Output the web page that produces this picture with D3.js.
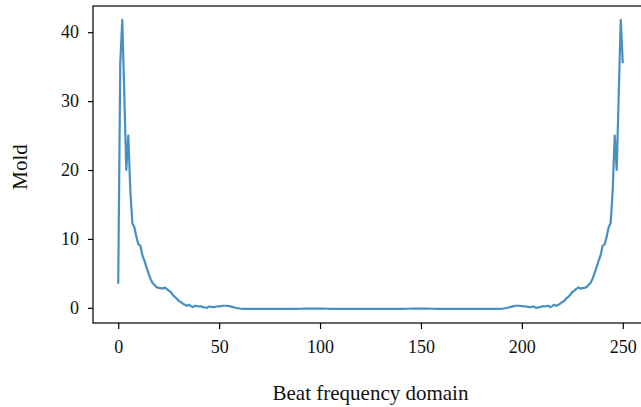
<!DOCTYPE html>
<html>
<head>
    <script src="https://d3js.org/d3.v7.min.js"></script>
    <style>
        body { margin: 0; background: #fff; }
        text { font-family: "Liberation Serif", "DejaVu Serif", serif; fill: #111; }
        .tick text { font-size: 18px; }
        .tick line { stroke: #000; stroke-width: 1.2; }
        .frame { fill: none; stroke: #000; stroke-width: 1.2; }
        .spectrum { fill: none; stroke: #1f77b4; stroke-opacity: 0.82; stroke-width: 2.2; stroke-linejoin: round; }
        .axis-title { font-size: 21px; }
    </style>
</head>
<body>
    <svg width="641" height="407"></svg>
    <script>
        // magnitude, bins 0..125
        const lowBand = [
            3.5, 35.5, 41.8, 31, 20, 25, 17, 12.3, 11.7, 10.3,
            9.2, 9.0, 7.6, 6.8, 5.9, 5.0, 4.2, 3.6, 3.3, 3.0,
            2.9, 2.85, 2.8, 2.95, 2.75, 2.5, 2.3, 1.9, 1.6, 1.35,
            1.0, 0.85, 0.6, 0.45, 0.3, 0.45, 0.25, 0.1, 0.3, 0.25,
            0.2, 0.25, 0.1, 0.05, 0.0, 0.2, 0.15, 0.1, 0.15, 0.2,
            0.2, 0.25, 0.3, 0.3, 0.3, 0.25, 0.18, 0.1, 0.02, -0.05,
            -0.1, -0.13, -0.15, -0.15, -0.15, -0.15, -0.15, -0.15, -0.15, -0.15,
            -0.15, -0.15, -0.15, -0.15, -0.15, -0.15, -0.15, -0.15, -0.15, -0.15,
            -0.15, -0.15, -0.15, -0.15, -0.15, -0.15, -0.15, -0.15, -0.14, -0.14,
            -0.13, -0.13, -0.12, -0.12, -0.12, -0.12, -0.12, -0.12, -0.12, -0.12,
            -0.12, -0.12, -0.12, -0.13, -0.13, -0.14, -0.14, -0.15, -0.15, -0.15,
            -0.15, -0.15, -0.15, -0.15, -0.15, -0.15, -0.15, -0.15, -0.15, -0.15,
            -0.15, -0.15, -0.15, -0.15, -0.15, -0.15
        ];
        // bins 126..250
        const highBand = [
            -0.15, -0.15, -0.15, -0.15, -0.15, -0.15, -0.15, -0.15, -0.15, -0.15,
            -0.15, -0.15, -0.15, -0.15, -0.15, -0.14, -0.14, -0.13, -0.13, -0.12,
            -0.12, -0.12, -0.12, -0.12, -0.12, -0.12, -0.12, -0.12, -0.12, -0.13,
            -0.13, -0.14, -0.14, -0.15, -0.15, -0.15, -0.15, -0.15, -0.15, -0.15,
            -0.15, -0.15, -0.15, -0.15, -0.15, -0.15, -0.15, -0.15, -0.15, -0.15,
            -0.15, -0.15, -0.15, -0.15, -0.15, -0.15, -0.15, -0.15, -0.15, -0.15,
            -0.15, -0.15, -0.15, -0.15, -0.13, -0.1, -0.05, 0.02, 0.1, 0.18,
            0.25, 0.3, 0.3, 0.3, 0.25, 0.2, 0.2, 0.15, 0.1, 0.15,
            0.2, 0.0, 0.05, 0.1, 0.25, 0.2, 0.25, 0.3, 0.1, 0.25,
            0.45, 0.3, 0.45, 0.6, 0.85, 1.0, 1.35, 1.6, 1.9, 2.3,
            2.5, 2.75, 2.95, 2.8, 2.85, 2.9, 3.0, 3.3, 3.6, 4.2,
            5.0, 5.9, 6.8, 7.6, 9.0, 9.2, 10.3, 11.7, 12.3, 17,
            25, 20, 31, 41.8, 35.5
        ];
        const xTicks = [0, 50, 100, 150, 200, 250];
        const yTicks = [0, 10, 20, 30, 40];

        const values = lowBand.concat(highBand);
        const data = values.map((v, i) => ({ bin: i, value: v }));

        const svg = d3.select('svg');
        const plotLeft = 93, plotTop = 6, plotBottom = 323, plotRight = 648;

        const x = d3.scaleLinear()
            .domain([-12.5, 262.5])
            .range([plotLeft, plotRight]);

        const y = d3.scaleLinear()
            .domain([-2.2, 43.8])
            .range([plotBottom, plotTop]);

        const line = d3.line()
            .x(d => x(d.bin))
            .y(d => y(d.value));

        svg.append('path')
            .datum(data)
            .attr('class', 'spectrum')
            .attr('d', line);

        svg.append('rect')
            .attr('class', 'frame')
            .attr('x', plotLeft)
            .attr('y', plotTop)
            .attr('width', plotRight - plotLeft)
            .attr('height', plotBottom - plotTop);

        svg.append('g')
            .attr('transform', `translate(0,${plotBottom})`)
            .call(d3.axisBottom(x).tickValues(xTicks).tickSize(6).tickPadding(11))
            .call(g => g.select('.domain').remove())
            .call(g => g.selectAll('text').attr('fill', '#111'));

        svg.append('g')
            .attr('transform', `translate(${plotLeft},0)`)
            .call(d3.axisLeft(y).tickValues(yTicks).tickSize(5).tickPadding(9))
            .call(g => g.select('.domain').remove())
            .call(g => g.selectAll('text').attr('fill', '#111'));

        svg.append('text')
            .attr('class', 'axis-title')
            .attr('x', (plotLeft + plotRight) / 2)
            .attr('y', 400)
            .attr('text-anchor', 'middle')
            .text('Beat frequency domain');

        svg.append('text')
            .attr('class', 'axis-title')
            .attr('transform', 'translate(27,167) rotate(-90)')
            .attr('text-anchor', 'middle')
            .text('Mold');
    </script>
</body>
</html>
